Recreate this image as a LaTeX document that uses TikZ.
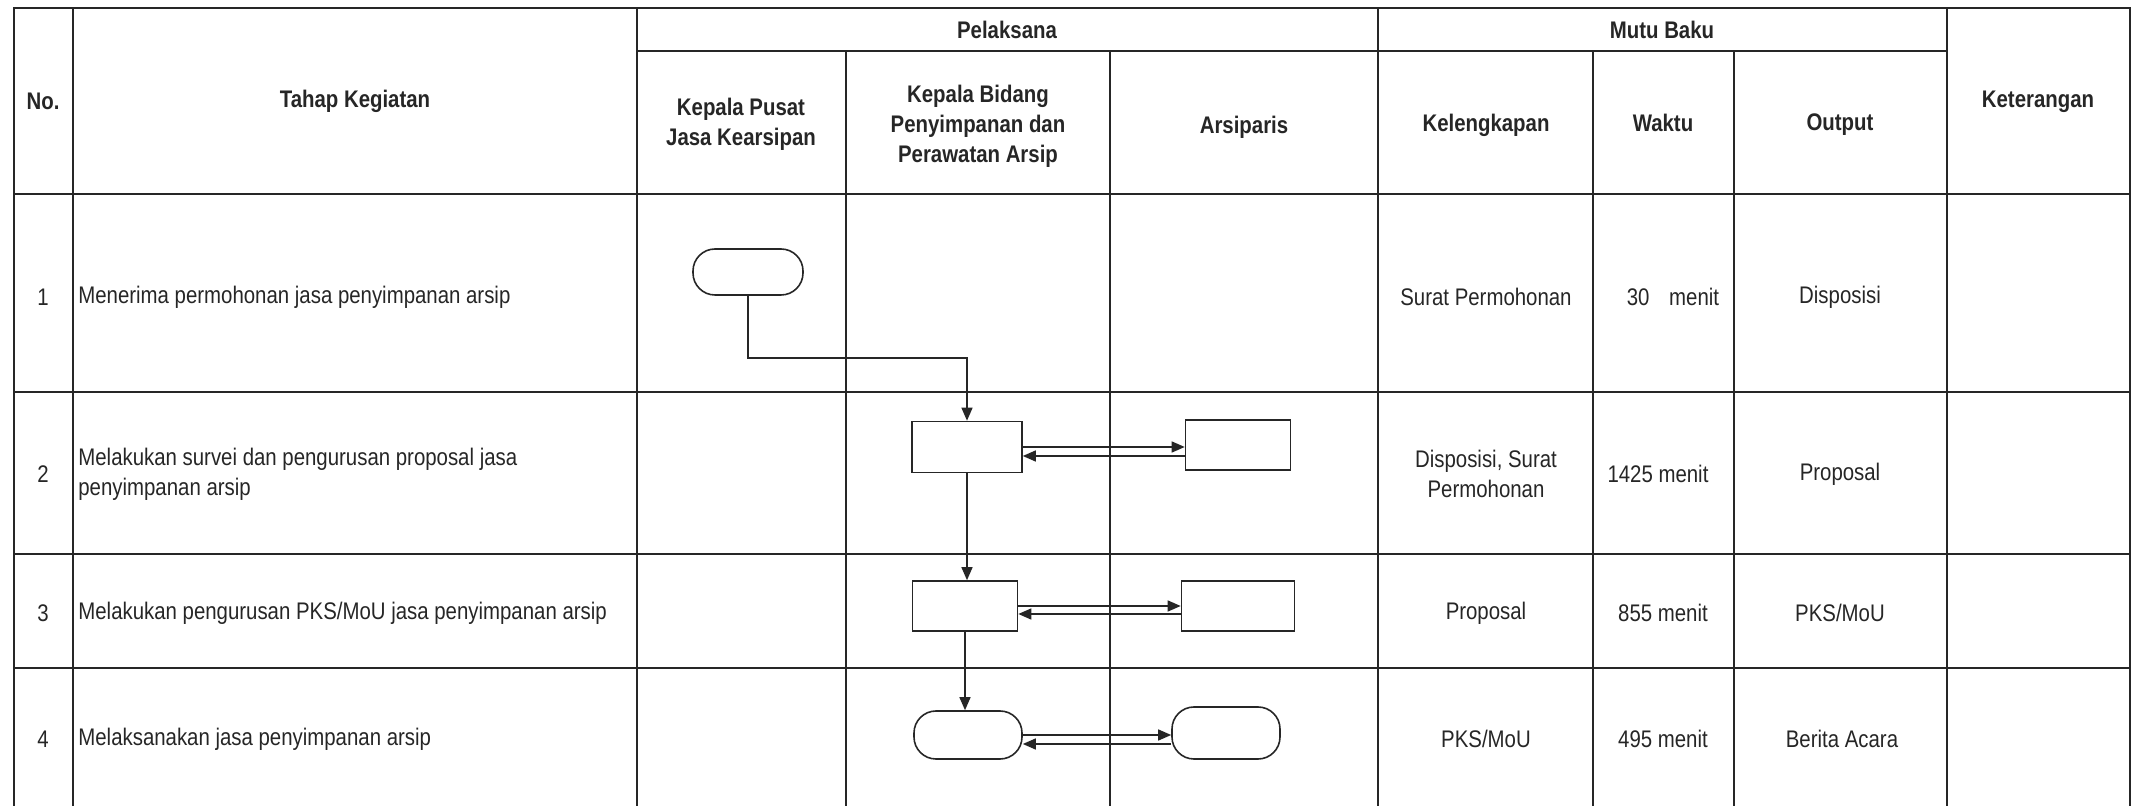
\documentclass[tikz,border=0pt]{standalone}
\usepackage{fontspec}
\setmainfont[FakeStretch=0.85]{Liberation Sans}
\usetikzlibrary{arrows.meta}
\definecolor{tinta}{gray}{0.15}
\tikzset{
	garis/.style={draw=tinta, line width=0.9pt},
	proses/.style={draw=tinta, line width=0.8pt, inner sep=0pt},
	terminal/.style={proses, rounded corners=11pt},
	panah/.style={draw=tinta, line width=0.7pt, -{Triangle[length=6.5pt,width=5.5pt]}},
	teks/.style={text=tinta, font=\fontsize{12}{15}\selectfont, inner sep=0pt, align=center},
	judul/.style={teks, font=\fontsize{12}{15}\selectfont\bfseries},
}
\begin{document}
\begin{tikzpicture}[x=0.5pt, y=-0.5pt]
	\useasboundingbox (0,0) rectangle (2138,806);
	\draw[garis] (14,806) -- (14,8) -- (2130,8) -- (2130,806);
	\draw[garis] (637,51) -- (1947,51);
	\foreach \y in {194,392,554,668} \draw[garis] (14,\y) -- (2130,\y);
	\foreach \x in {73,637,1378,1947} \draw[garis] (\x,8) -- (\x,806);
	\foreach \x in {846,1110,1593,1734} \draw[garis] (\x,51) -- (\x,806);

	\node[judul] (hno) at (43,101) {No.};
	\node[judul] (htahap) at (355,101) {Tahap Kegiatan};
	\node[judul] (hpelaksana) at (1007,30) {Pelaksana};
	\node[judul] (hkapus) at (741,124) {Kepala Pusat\\Jasa Kearsipan};
	\node[judul] (hkabid) at (978,126) {Kepala Bidang\\Penyimpanan dan\\Perawatan Arsip};
	\node[judul] (harsiparis) at (1244,127) {Arsiparis};
	\node[judul] (hmutu) at (1662,30) {Mutu Baku};
	\node[judul] (hlengkap) at (1486,125) {Kelengkapan};
	\node[judul] (hwaktu) at (1663,123) {Waktu};
	\node[judul] (houtput) at (1840,125) {Output};
	\node[judul] (hket) at (2038,102) {Keterangan};

	\node[teks] (no1) at (43,297) {1};
	\node[teks, anchor=west, align=left] (tahap1) at (78,297) {Menerima permohonan jasa penyimpanan arsip};
	\node[teks] (lengkap1) at (1486,297) {Surat Permohonan};
	\node[teks] (waktu1) at (1673,297) {30\hspace{7pt} menit};
	\node[teks] (output1) at (1840,297) {Disposisi};

	\node[teks] (no2) at (43,474) {2};
	\node[teks, anchor=west, align=left] (tahap2) at (78,474) {Melakukan survei dan pengurusan proposal jasa\\penyimpanan arsip};
	\node[teks] (lengkap2) at (1486,474) {Disposisi, Surat\\Permohonan};
	\node[teks] (waktu2) at (1658,474) {1425 menit};
	\node[teks] (output2) at (1840,474) {Proposal};

	\node[teks] (no3) at (43,613) {3};
	\node[teks, anchor=west, align=left] (tahap3) at (78,613) {Melakukan pengurusan PKS/MoU jasa penyimpanan arsip};
	\node[teks] (lengkap3) at (1486,613) {Proposal};
	\node[teks] (waktu3) at (1663,613) {855 menit};
	\node[teks] (output3) at (1840,613) {PKS/MoU};

	\node[teks] (no4) at (43,739) {4};
	\node[teks, anchor=west, align=left] (tahap4) at (78,739) {Melaksanakan jasa penyimpanan arsip};
	\node[teks] (lengkap4) at (1486,739) {PKS/MoU};
	\node[teks] (waktu4) at (1663,739) {495 menit};
	\node[teks] (output4) at (1842,739) {Berita Acara};

	\node[terminal, minimum width=55pt, minimum height=23pt] (mulai) at (748,272) {};
	\node[proses, minimum width=55pt, minimum height=25.5pt] (survei) at (967,447) {};
	\node[proses, minimum width=52.5pt, minimum height=25pt] (surveiarsip) at (1238,445) {};
	\node[proses, minimum width=52.5pt, minimum height=25pt] (pks) at (965,606) {};
	\node[proses, minimum width=56.5pt, minimum height=25pt] (pksarsip) at (1238,606) {};
	\node[terminal, minimum width=54pt, minimum height=24pt] (laksana) at (968,735) {};
	\node[terminal, minimum width=54pt, minimum height=26pt] (laksanaarsip) at (1226,733) {};

	\coordinate (belok) at (860,358);
	\coordinate (balik2) at ([yshift=-4.5pt]survei.east);
	\coordinate (balik3) at ([yshift=-4pt]pks.east);
	\coordinate (balik4) at ([yshift=-4.5pt]laksana.east);
	\draw[panah] (mulai.south) |- (belok) -| (survei.north);
	\draw[panah] (survei.east) -- (survei.east -| surveiarsip.west);
	\draw[panah] (surveiarsip.west |- balik2) -- (balik2);
	\draw[panah] (survei.south) -- (survei.south |- pks.north);
	\draw[panah] (pks.east) -- (pks.east -| pksarsip.west);
	\draw[panah] (pksarsip.west |- balik3) -- (balik3);
	\draw[panah] (pks.south) -- (pks.south |- laksana.north);
	\draw[panah] (laksana.east) -- (laksana.east -| laksanaarsip.west);
	\draw[panah] (laksanaarsip.west |- balik4) -- (balik4);
\end{tikzpicture}
\end{document}
